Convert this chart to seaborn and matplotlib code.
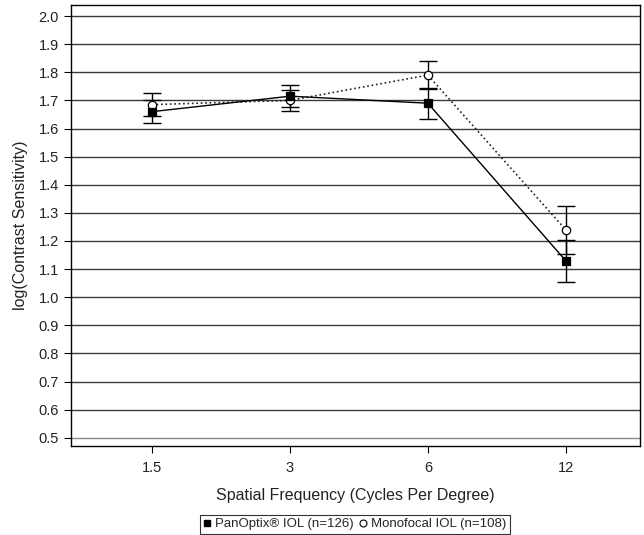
import numpy as np
import pandas as pd
import matplotlib
matplotlib.use("Agg")
import matplotlib.pyplot as plt
import seaborn as sns
from matplotlib.lines import Line2D

freqs = ["1.5", "3", "6", "12"]
pan_vals = [1.66, 1.715, 1.69, 1.13]
pan_err = [0.04, 0.04, 0.055, 0.075]
mono_vals = [1.685, 1.70, 1.79, 1.24]
mono_err = [0.04, 0.038, 0.05, 0.085]
yticks = [0.5, 0.6, 0.7, 0.8, 0.9, 1.0, 1.1, 1.2, 1.3, 1.4, 1.5, 1.6, 1.7, 1.8, 1.9, 2.0]
pan_label = "PanOptix® IOL (n=126)"
mono_label = "Monofocal IOL (n=108)"

sns.set_theme(style="white")
plt.rcParams["font.family"] = ["Liberation Sans", "DejaVu Sans"]

df = pd.DataFrame({
    "freq": freqs * 2,
    "value": pan_vals + mono_vals,
    "err": pan_err + mono_err,
    "group": [pan_label] * 4 + [mono_label] * 4,
})

fig = plt.figure(figsize=(6.44, 5.35), dpi=100)
ax = fig.add_axes([0.110, 0.166, 0.884, 0.825])

styles = {
    pan_label: dict(marker="s", linestyle="-", mfc="black", ms=5.5, color="black", lw=1.0),
    mono_label: dict(marker="o", linestyle=":", mfc="white", ms=6.0, color="#222222", lw=1.2),
}

for g in [mono_label, pan_label]:
    sub = df[df["group"] == g]
    st = styles[g]
    sns.pointplot(data=sub, x="freq", y="value", order=freqs, ax=ax,
                  color=st["color"], markers=st["marker"], linestyles=st["linestyle"],
                  errorbar=None, markersize=st["ms"], linewidth=st["lw"],
                  markerfacecolor=st["mfc"], markeredgecolor="black",
                  markeredgewidth=0.9, zorder=4)
    xs = [freqs.index(f) for f in sub["freq"]]
    ax.errorbar(xs, sub["value"], yerr=sub["err"], fmt="none", ecolor="black",
                elinewidth=1.0, capsize=6.5, capthick=1.0, zorder=3)

ax.set_xlim(-0.59, 3.54)
ax.set_ylim(0.47, 2.04)
ax.set_yticks(yticks)
ax.set_yticklabels([f"{v:.1f}" for v in yticks])
for y in yticks:
    ax.axhline(y, color="#3a3a3a" if y > 0.5 else "#888888", lw=1.0, zorder=1)

ax.tick_params(axis="both", direction="out", length=5, width=0.8, color="black",
               labelsize=10.5, labelcolor="#222222", bottom=True, left=True)
ax.tick_params(axis="x", pad=6)
for s in ax.spines.values():
    s.set_color("black")
    s.set_linewidth(1.0)

ax.set_xlabel("Spatial Frequency (Cycles Per Degree)", fontsize=11.5, color="#222222", labelpad=9)
ax.set_ylabel("log(Contrast Sensitivity)", fontsize=11.5, color="#222222", labelpad=8)

handles = [
    Line2D([], [], marker="s", color="black", linestyle="none", ms=4.5, mfc="black"),
    Line2D([], [], marker="o", color="black", linestyle="none", ms=5, mfc="white", mew=0.8),
]
leg = fig.legend(handles, [pan_label, mono_label], loc="lower center",
                 bbox_to_anchor=(0.551, 0.0), ncol=2, fontsize=9.5, frameon=True,
                 fancybox=False, handlelength=0.6, handletextpad=0.3, columnspacing=0.4,
                 borderpad=0.25, borderaxespad=0.1)
leg.get_frame().set_edgecolor("black")
leg.get_frame().set_linewidth(0.8)

fig.savefig("out.png", dpi=100)
